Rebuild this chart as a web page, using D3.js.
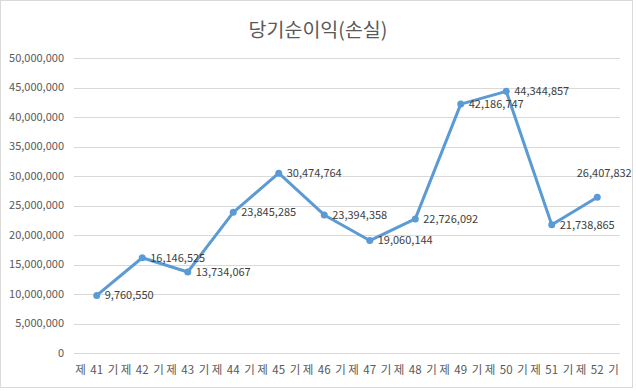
<!DOCTYPE html>
<html>
<head>
<meta charset="utf-8">
<script src="https://cdn.jsdelivr.net/npm/d3@7"></script>
<style>
  body { margin: 0; background: #fff; }
  text { font-family: "Noto Sans CJK KR", "Noto Sans", sans-serif; }
</style>
</head>
<body>
<svg id="chart" width="636" height="391"></svg>
<script>
// data
const periods = ['제 41 기', '제 42 기', '제 43 기', '제 44 기', '제 45 기', '제 46 기',
                 '제 47 기', '제 48 기', '제 49 기', '제 50 기', '제 51 기', '제 52 기'];
const netIncome = [9760550, 16146525, 13734067, 23845285, 30474764, 23394358,
                   19060144, 22726092, 42186747, 44344857, 21738865, 26407832];
const yTicks = [0, 5000000, 10000000, 15000000, 20000000, 25000000,
                30000000, 35000000, 40000000, 45000000, 50000000];
const title = '당기순이익(손실)';

const svg = d3.select('#chart');
const W = 636, H = 391;

// outer border
svg.append('rect')
    .attr('x', 0.5).attr('y', 0.5)
    .attr('width', W - 4).attr('height', H - 4)
    .attr('fill', '#fff').attr('stroke', '#d9d9d9')

const x = d3.scaleBand().domain(periods).range([74, 620])
const y = d3.scaleLinear().domain([0, 50000000]).range([353, 58])
const fmt = d3.format(',')

// gridlines
svg.append('g').selectAll('line')
    .data(yTicks)
    .enter().append('line')
    .attr('x1', 74).attr('x2', 620)
    .attr('y1', d => Math.round(y(d)) + 0.5)
    .attr('y2', d => Math.round(y(d)) + 0.5)
    .attr('stroke', '#d9d9d9').attr('stroke-width', 1)

// y labels
svg.append('g').selectAll('text')
    .data(yTicks)
    .enter().append('text')
    .attr('x', 64)
    .attr('y', d => y(d))
    .attr('dy', '0.35em')
    .attr('text-anchor', 'end')
    .attr('font-size', 11)
    .attr('fill', '#595959')
    .text(d => fmt(d))

// x labels
svg.append('g').selectAll('text')
    .data(periods)
    .enter().append('text')
    .attr('x', d => x(d) + x.bandwidth() / 2)
    .attr('y', 370)
    .attr('dy', '0.35em')
    .attr('text-anchor', 'middle')
    .attr('font-size', 11.5)
    .attr('word-spacing', 2)
    .attr('fill', '#595959')
    .text(d => d)

// title
svg.append('text')
    .attr('x', 318).attr('y', 30)
    .attr('dy', '0.35em')
    .attr('text-anchor', 'middle')
    .attr('font-size', 19.5)
    .attr('fill', '#595959')
    .text(title)

const pts = periods.map((p, i) => ({ p: p, v: netIncome[i] }))

// the line
svg.append('path')
    .datum(pts)
    .attr('fill', 'none')
    .attr('stroke', '#5b9bd5')
    .attr('stroke-width', 3)
    .attr('stroke-linejoin', 'round')
    .attr('d', d3.line()
        .x(d => x(d.p) + x.bandwidth() / 2)
        .y(d => y(d.v)))

// markers
svg.append('g').selectAll('circle')
    .data(pts)
    .enter().append('circle')
    .attr('cx', d => x(d.p) + x.bandwidth() / 2)
    .attr('cy', d => y(d.v))
    .attr('r', 3.5)
    .attr('fill', '#5b9bd5')

// data labels, right of point (last one goes above, no room on the right)
const last = pts.length - 1
svg.append('g').selectAll('text')
    .data(pts)
    .enter().append('text')
    .attr('x', (d, i) => x(d.p) + x.bandwidth() / 2 + (i === last ? 7 : 8))
    .attr('y', (d, i) => i === last ? y(d.v) - 24 : y(d.v))
    .attr('dy', '0.35em')
    .attr('text-anchor', (d, i) => i === last ? 'middle' : 'start')
    .attr('font-size', 11)
    .attr('fill', '#404040')
    .text(d => fmt(d.v))
</script>
</body>
</html>
